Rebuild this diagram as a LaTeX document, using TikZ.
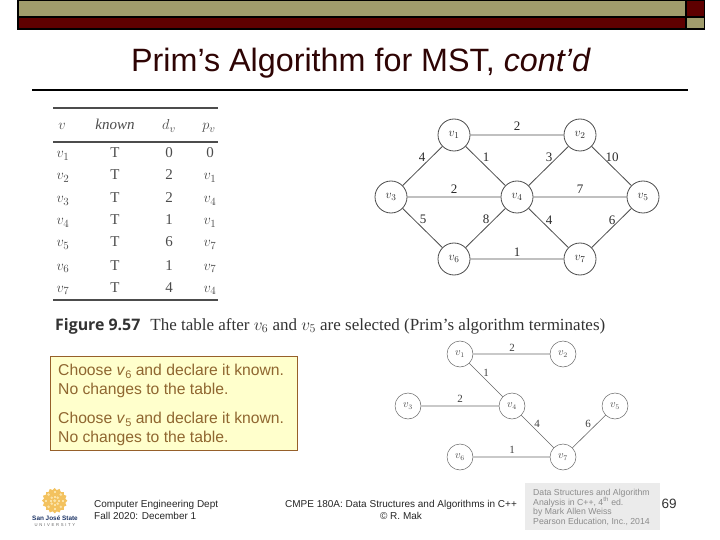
\documentclass[tikz,border=0pt]{standalone}
\usepackage{fontspec}
\setmainfont{Liberation Sans}
\newfontfamily\bookfont{Liberation Serif}
\newfontfamily\capfont{Open Sans}
\definecolor{olivebar}{HTML}{A09C6C}
\definecolor{maroonbar}{HTML}{5E0000}
\definecolor{titlecol}{HTML}{2E0404}
\definecolor{notefill}{HTML}{FFFFCC}
\definecolor{noteedge}{HTML}{96602A}
\definecolor{notetext}{HTML}{8F6630}
\definecolor{bookink}{HTML}{2A2A2A}
\definecolor{sjgold}{HTML}{F3C25F}
\definecolor{sjlight}{HTML}{FBE3A8}
\definecolor{sjblue}{HTML}{1E3566}
\newcommand{\fs}[1]{\fontsize{#1}{#1}\selectfont}
\tikzset{
  x=1pt,y=-1pt,
  vbig/.style={circle,draw=black!70,line width=0.8pt,fill=white,minimum size=32pt,inner sep=0pt,font=\fs{13},text=bookink},
  vsmall/.style={circle,draw=black!60,line width=0.5pt,fill=white,minimum size=26pt,inner sep=0pt,font=\fs{10.5},text=black!70},
  edgebig/.style={draw=black!70,line width=0.8pt},
  edgesmall/.style={draw=black!60,line width=0.6pt},
  wbig/.style={font=\bookfont\fs{13},text=bookink,inner sep=0pt},
  wsmall/.style={font=\bookfont\fs{11},text=black!75,inner sep=0pt},
  cell/.style={font=\bookfont\fs{15},text=black!70,inner sep=0pt,anchor=base},
  head/.style={font=\bookfont\itshape\fs{15},text=black!70,inner sep=0pt,anchor=base},
  rulek/.style={draw=black!70,line width=1.1pt},
  notebox/.style={draw=noteedge,fill=notefill,line width=0.8pt},
  notetxt/.style={font=\fs{15.7},text=notetext,anchor=base west,inner sep=0pt},
  foot/.style={font=\fs{10},text=black!85,inner sep=0pt},
  refnote/.style={font=\fs{8.7},text=black!45,anchor=base west,inner sep=0pt},
}
\begin{document}
\begin{tikzpicture}
\useasboundingbox (0,0) rectangle (720,540);
% header bars
\fill[black] (17,0) rectangle (705,30);
\fill[olivebar] (18.5,1) rectangle (685,16.5);
\fill[maroonbar] (18.5,18.5) rectangle (685,28);
\fill[maroonbar] (687,1) rectangle (704,16.5);
\fill[olivebar] (687,18.5) rectangle (704,28);
% title
\node[font=\fs{32.3},text=titlecol,inner sep=0pt,anchor=base] (title) at (361,72) {Prim’s Algorithm for MST, \textit{cont’d}};
\draw[black,line width=1.2pt] (32,90) -- (688,90);
% table
\coordinate (tl1) at (53,108); \coordinate (tr1) at (218,108);
\coordinate (tl2) at (53,142); \coordinate (tr2) at (218,142);
\coordinate (tl3) at (53,300); \coordinate (tr3) at (218,300);
\draw[rulek] (tl1) -- (tr1);
\draw[rulek] (tl2) -- (tr2);
\draw[rulek] (tl3) -- (tr3);
\node[head] (hv) at (62,130) {$v$};
\node[head] (hk) at (115,130) {known};
\node[head] (hd) at (169,130) {$d_v$};
\node[head] (hp) at (209,130) {$p_v$};
\foreach \i/\yy/\dv/\pv in {1/158/0/0,2/180/2/$v_1$,3/203/2/$v_4$,4/225/1/$v_1$,5/247/6/$v_7$,6/270/1/$v_7$,7/292/4/$v_4$}{
  \node[cell] (r\i a) at (63,\yy) {$v_{\i}$};
  \node[cell] (r\i b) at (115,\yy) {T};
  \node[cell] (r\i c) at (169,\yy) {\dv};
  \node[cell] (r\i d) at (210,\yy) {\pv};
}
\node[anchor=base west,inner sep=0pt,text=black!80] (cap) at (55,330)
 {{\capfont\bfseries\fs{15.9}Figure 9.57}\hspace{10pt}{\bookfont\fs{17}The table after $v_6$ and $v_5$ are selected (Prim’s algorithm terminates)}};
% big graph
\node[vbig] (a1) at (454,135) {$v_1$};
\node[vbig] (a2) at (580,135) {$v_2$};
\node[vbig] (a3) at (391,197) {$v_3$};
\node[vbig] (a4) at (517,197) {$v_4$};
\node[vbig] (a5) at (643,197) {$v_5$};
\node[vbig] (a6) at (454,259) {$v_6$};
\node[vbig] (a7) at (580,259) {$v_7$};
\draw[edgebig] (a1)--(a2) (a1)--(a3) (a1)--(a4) (a2)--(a4) (a2)--(a5) (a3)--(a4) (a4)--(a5)
  (a3)--(a6) (a4)--(a6) (a4)--(a7) (a5)--(a7) (a6)--(a7);
\foreach \n/\t/\px/\py in {p/2/517/126,q/4/422/157,r/1/486/157,s/3/549/157,t/10/612/157,u/2/454/189,w/7/580/189,m/5/423/219,n/8/486/219,o/4/549/220,k/6/612/220,l/1/517/252}
  \node[wbig] (la\n) at (\px,\py) {\t};
% note box
\path[notebox] (50,356) rectangle (297,450);
\node[notetxt] (n1) at (58,375) {Choose \textit{v}\raisebox{-3pt}{\fs{11}6} and declare it known.};
\node[notetxt] (n2) at (58,394) {No changes to the table.};
\node[notetxt] (n3) at (58,423) {Choose \textit{v}\raisebox{-3pt}{\fs{11}5} and declare it known.};
\node[notetxt] (n4) at (58,442) {No changes to the table.};
% small graph
\node[vsmall] (b1) at (460,354) {$v_1$};
\node[vsmall] (b2) at (563,354) {$v_2$};
\node[vsmall] (b3) at (408,406) {$v_3$};
\node[vsmall] (b4) at (512,406) {$v_4$};
\node[vsmall] (b5) at (615,406) {$v_5$};
\node[vsmall] (b6) at (460,457) {$v_6$};
\node[vsmall] (b7) at (563,457) {$v_7$};
\draw[edgesmall] (b1)--(b2) (b1)--(b4) (b3)--(b4) (b4)--(b7) (b5)--(b7) (b6)--(b7);
\foreach \n/\t/\px/\py in {p/2/512/348,q/1/486/373,r/2/460/399,s/4/537/424,t/6/588/424,u/1/512/450}
  \node[wsmall] (lb\n) at (\px,\py) {\t};
% logo
\foreach \ang in {0,22.5,...,67.5}
  \fill[sjgold,rotate around={\ang:(54.7,500.7)}] (45.7,491.7) rectangle (63.7,509.7);
\foreach \ang in {0,45,...,315}
  \fill[sjlight,rotate around={\ang:(54.7,500.7)}] (53.7,491) rectangle (55.7,493);
\foreach \ang in {0,45,...,315}
  \fill[sjlight,rotate around={\ang:(54.7,500.7)}] (53.7,495.5) rectangle (55.7,497.5);
\fill[sjlight] (54.7,500.7) circle (1.6pt);
\node[font=\bfseries\fs{6.4},text=sjblue,inner sep=0pt] (logo1) at (55,518) {San José State};
\node[font=\fs{4.2},text=black!60,inner sep=0pt] (logo2) at (55,525) {U\hspace{1.7pt}N\hspace{1.7pt}I\hspace{1.7pt}V\hspace{1.7pt}E\hspace{1.7pt}R\hspace{1.7pt}S\hspace{1.7pt}I\hspace{1.7pt}T\hspace{1.7pt}Y};
% footer
\node[foot,anchor=base west] (f1) at (94,507) {Computer Engineering Dept};
\node[foot,anchor=base west] (f2) at (94,519) {Fall 2020: December 1};
\node[foot,anchor=base] (f3) at (401,507) {CMPE 180A: Data Structures and Algorithms in C++};
\node[foot,anchor=base] (f4) at (401,519) {© R. Mak};
\fill[black!8] (525,483) rectangle (660,530);
\node[refnote] (g1) at (533,495) {Data Structures and Algorithm};
\node[refnote] (g2) at (533,505) {Analysis in C++, 4\textsuperscript{th} ed.};
\node[refnote] (g3) at (533,514) {by Mark Allen Weiss};
\node[refnote] (g4) at (533,524) {Pearson Education, Inc., 2014};
\node[font=\fs{13.5},text=black!80,inner sep=0pt] (pg) at (669,504) {69};
\end{tikzpicture}
\end{document}
